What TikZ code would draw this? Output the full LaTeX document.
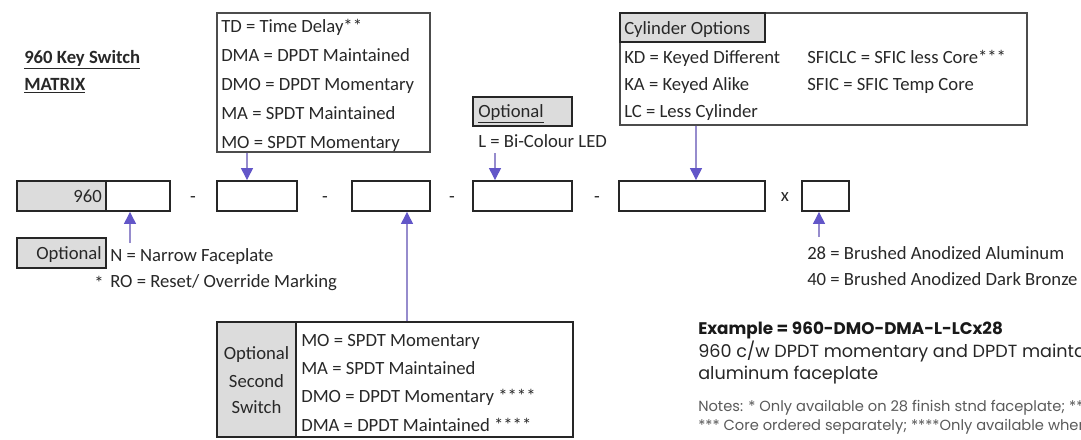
\documentclass[tikz,border=0pt]{standalone}
\usepackage{fontspec}
\setmainfont{Carlito}
\newfontfamily\popfont{Poppins}
\usetikzlibrary{arrows.meta,fit}
\definecolor{headc}{RGB}{98,86,200}
\definecolor{shaftc}{RGB}{150,140,205}
\definecolor{fillg}{RGB}{220,220,220}
\definecolor{txtc}{RGB}{40,40,40}
\definecolor{notec}{RGB}{90,90,90}
\begin{document}
\begin{tikzpicture}[x=0.75pt,y=-0.75pt,
  lbl/.style={font=\fontsize{14}{17}\selectfont, text=txtc, inner sep=0pt, anchor=base west},
  lblc/.style={lbl, anchor=base},
  lble/.style={lbl, anchor=base east},
  fieldbox/.style={draw=black!85, line width=1.4pt, inner sep=0pt},
  graybox/.style={fieldbox, fill=fillg},
  thinbox/.style={draw=black!70, line width=0.9pt, inner sep=0pt},
  arr/.style={draw=shaftc, line width=0.9pt, -{Triangle[length=9pt,width=9pt,color=headc,fill=headc]}},
  exb/.style={font=\popfont\bfseries\fontsize{12.6}{15}\selectfont, text=black!90, inner sep=0pt, anchor=base west},
  exr/.style={font=\popfont\fontsize{13.2}{15}\selectfont, text=black!85, inner sep=0pt, anchor=base west},
  exn/.style={font=\popfont\fontsize{11}{13}\selectfont, text=notec, inner sep=0pt, anchor=base west}
]
\useasboundingbox (0,0) rectangle (1081,439);
\clip (0,0) rectangle (1081,439);
\fill[white] (0,0) rectangle (1081,439);

% title
\node[lbl, font=\bfseries\fontsize{14}{17}\selectfont] (t1) at (24,63) {\underline{960 Key Switch}};
\node[lbl, font=\bfseries\fontsize{14}{17}\selectfont] (t2) at (24,90) {\underline{MATRIX}};

% code row
\node[graybox, fit={(17,181)(106,211)}] (f0) {};
\node[lble] (f0t) at (102,202) {960};
\node[fieldbox, fit={(106,181)(170,211)}] (f1) {};
\node[lblc] (d1) at (193,202) {-};
\node[fieldbox, fit={(217,181)(297,211)}] (f2) {};
\node[lblc] (d2) at (325,202) {-};
\node[fieldbox, fit={(352,181)(430,211)}] (f3) {};
\node[lblc] (d3) at (452,202) {-};
\node[fieldbox, fit={(473,181)(572,211)}] (f4) {};
\node[lblc] (d4) at (597,202) {-};
\node[fieldbox, fit={(619,181)(765,211)}] (f5) {};
\node[lblc] (xx) at (785,201) {x};
\node[fieldbox, fit={(802,181)(849,211)}] (f6) {};

% switch box (top)
\node[thinbox, fit={(217,13)(430,152)}] (td) {};
\node[lbl] (td1) at (221,32) {TD = Time Delay**};
\node[lbl] (td2) at (221,61) {DMA = DPDT Maintained};
\node[lbl] (td3) at (221,90) {DMO = DPDT Momentary};
\node[lbl] (td4) at (221,119) {MA = SPDT Maintained};
\node[lbl] (td5) at (221,148) {MO = SPDT Momentary};

% LED
\node[graybox, fit={(473,97)(572,126)}] (led) {};
\node[lbl] (ledt) at (478,117) {\underline{Optional}};
\node[lbl] (ledl) at (478,147) {L = Bi-Colour LED};

% cylinder
\node[thinbox, fit={(620,13)(1027,125)}] (cyl) {};
\node[graybox, fit={(620,13)(765,42)}] (cylh) {};
\node[lbl] (cylt) at (624,34) {Cylinder Options};
\node[lbl] (c1) at (624,63) {KD = Keyed Different};
\node[lbl] (c2) at (624,90) {KA = Keyed Alike};
\node[lbl] (c3) at (624,117) {LC = Less Cylinder};
\node[lbl] (c4) at (807,63) {SFICLC = SFIC less Core***};
\node[lbl] (c5) at (807,90) {SFIC = SFIC Temp Core};

% optional narrow
\node[graybox, fit={(17,238)(106,268)}] (nopt) {};
\node[lble] (nopt) at (102,259) {Optional};
\node[lbl] (n1) at (110,261) {N = Narrow Faceplate};
\node[lble] (n2s) at (104,289) {*};
\node[lbl] (n2) at (110,287) {RO = Reset/ Override Marking};

% second switch
\fill[fillg] (217,322) rectangle (296,437);
\node[fieldbox, line width=1.2pt, fit={(217,322)(573,437)}] (sw) {};
\draw[black!85, line width=1.4pt] (296,322) -- (296,437);
\node[lblc] (s1) at (256.5,359) {Optional};
\node[lblc] (s2) at (256.5,387) {Second};
\node[lblc] (s3) at (256.5,413) {Switch};
\node[lbl] (s4) at (301,346) {MO = SPDT Momentary};
\node[lbl] (s5) at (301,374) {MA = SPDT Maintained};
\node[lbl] (s6) at (301,402) {DMO = DPDT Momentary ****};
\node[lbl] (s7) at (301,431) {DMA = DPDT Maintained ****};

% finish
\node[lbl] (fin1) at (807,259) {28 = Brushed Anodized Aluminum};
\node[lbl] (fin2) at (807,285) {40 = Brushed Anodized Dark Bronze};

% example
\node[exb] (ex1) at (698,334) {Example = 960-DMO-DMA-L-LCx28};
\node[exr] (ex2) at (698,357) {960 c/w DPDT momentary and DPDT maintained};
\node[exr] (ex3) at (698,379) {aluminum faceplate};
\node[exn] (ex4) at (698,411) {Notes: * Only available on 28 finish stnd faceplate; **};
\node[exn] (ex5) at (698,430) {*** Core ordered separately; ****Only available when};

% arrows
\coordinate (xa1) at (247,0);
\coordinate (xa3) at (407,0);
\coordinate (xa5) at (696,0);
\coordinate (a2tail) at (130,243);
\coordinate (a4tail) at (495,153);
\coordinate (a6tail) at (819,237);
\draw[arr] (td.south -| xa1) -- (f2.north -| xa1);
\draw[arr] (a2tail) -- (a2tail |- f1.south);
\draw[arr] (sw.north -| xa3) -- (f3.south -| xa3);
\draw[arr] (a4tail) -- (a4tail |- f4.north);
\draw[arr] (cyl.south -| xa5) -- (f5.north -| xa5);
\draw[arr] (a6tail) -- (a6tail |- f6.south);
\end{tikzpicture}
\end{document}
